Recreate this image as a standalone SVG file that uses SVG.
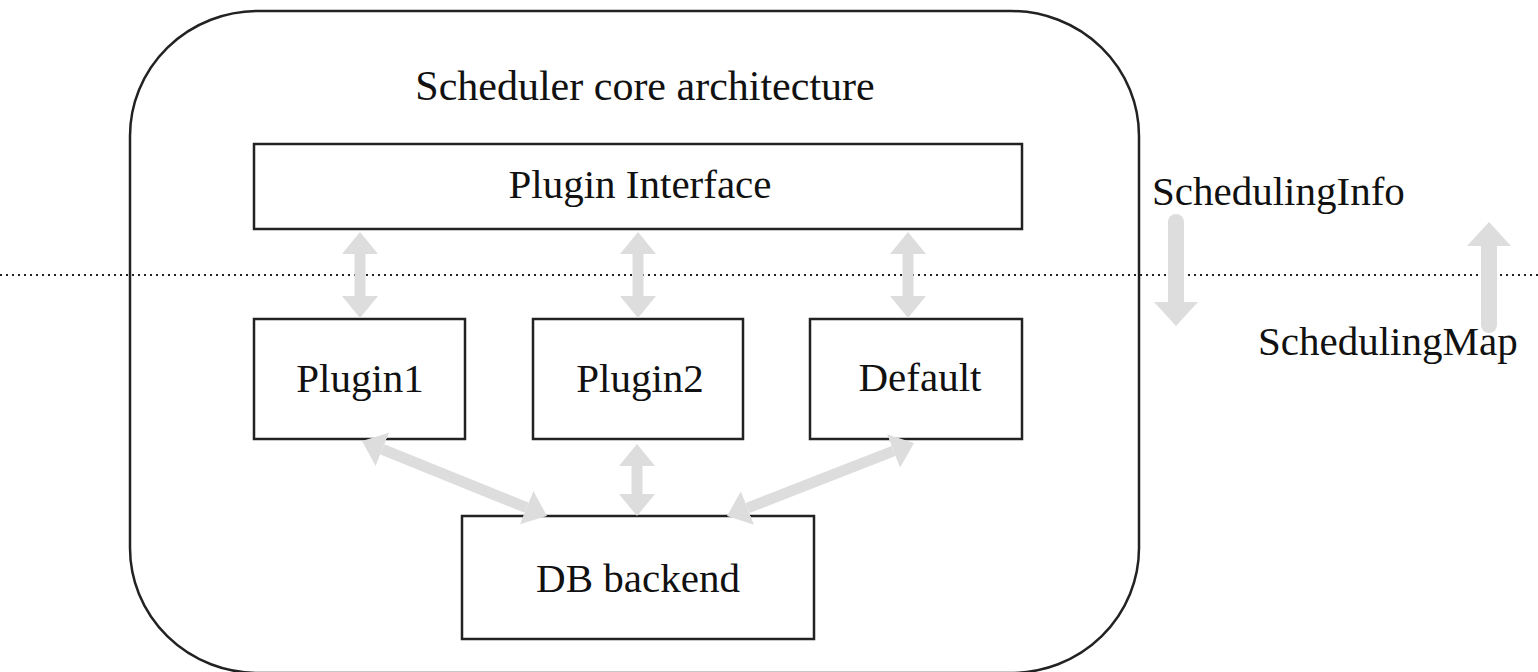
<svg xmlns="http://www.w3.org/2000/svg" width="1538" height="672" viewBox="0 0 1538 672">
<style>
  .box { fill: #ffffff; stroke: #222222; stroke-width: 2.5; }
  .outer { fill: none; stroke: #222222; stroke-width: 2.5; }
  .lbl { font-family: "Liberation Serif", "Times New Roman", serif; font-size: 41px; fill: #111111; }
  .mid { text-anchor: middle; }
  .dbl { stroke: #dddddd; stroke-width: 11; fill: none; marker-start: url(#head); marker-end: url(#head); }
  .big { stroke: #dddddd; stroke-width: 16; fill: none; stroke-linecap: round; marker-end: url(#bighead); }
  .sep { stroke: #222222; stroke-width: 2; stroke-dasharray: 2 4; fill: none; }
</style>
<defs>
  <marker id="head" markerUnits="userSpaceOnUse" viewBox="0 0 22 36" refX="0" refY="18" markerWidth="22" markerHeight="36" orient="auto-start-reverse">
    <path d="M0,0 L22,18 L0,36 z" fill="#dddddd"/>
  </marker>
  <marker id="bighead" markerUnits="userSpaceOnUse" viewBox="0 0 24 44" refX="0" refY="22" markerWidth="24" markerHeight="44" orient="auto">
    <path d="M0,0 L24,22 L0,44 z" fill="#dddddd"/>
  </marker>
</defs>

<g id="outer">
  <rect class="outer" x="130" y="11" width="1009" height="662" rx="128" ry="125"/>
  <text class="lbl mid" x="645" y="100" style="font-size:42px">Scheduler core architecture</text>
</g>

<line class="sep" x1="0" y1="275" x2="1538" y2="275"/>

<g id="plugin-interface">
  <rect class="box" x="254" y="144" width="768" height="85"/>
  <text class="lbl mid" x="640" y="198">Plugin Interface</text>
</g>
<g id="plugin1">
  <rect class="box" x="254" y="319" width="211" height="120"/>
  <text class="lbl mid" x="360" y="392">Plugin1</text>
</g>
<g id="plugin2">
  <rect class="box" x="533" y="319" width="210" height="120"/>
  <text class="lbl mid" x="640" y="392">Plugin2</text>
</g>
<g id="default">
  <rect class="box" x="810" y="319" width="212" height="120"/>
  <text class="lbl mid" x="920" y="391">Default</text>
</g>
<g id="db-backend">
  <rect class="box" x="462" y="516" width="352" height="123"/>
  <text class="lbl mid" x="638" y="592">DB backend</text>
</g>

<g id="connectors">
  <line class="dbl" x1="360" y1="254" x2="360" y2="296"/>
  <line class="dbl" x1="638" y1="254" x2="638" y2="296"/>
  <line class="dbl" x1="908" y1="254" x2="908" y2="296"/>
  <line class="dbl" x1="382.4" y1="449.3" x2="526.6" y2="507.7"/>
  <line class="dbl" x1="637" y1="466" x2="637" y2="494"/>
  <line class="dbl" x1="893.5" y1="451" x2="747.5" y2="508"/>
  <line class="big" x1="1176" y1="222" x2="1176" y2="302"/>
  <line class="big" x1="1489" y1="325" x2="1489" y2="246"/>
</g>

<g id="labels">
  <text class="lbl" x="1152" y="205">SchedulingInfo</text>
  <text class="lbl" x="1258" y="355">SchedulingMap</text>
</g>
</svg>
